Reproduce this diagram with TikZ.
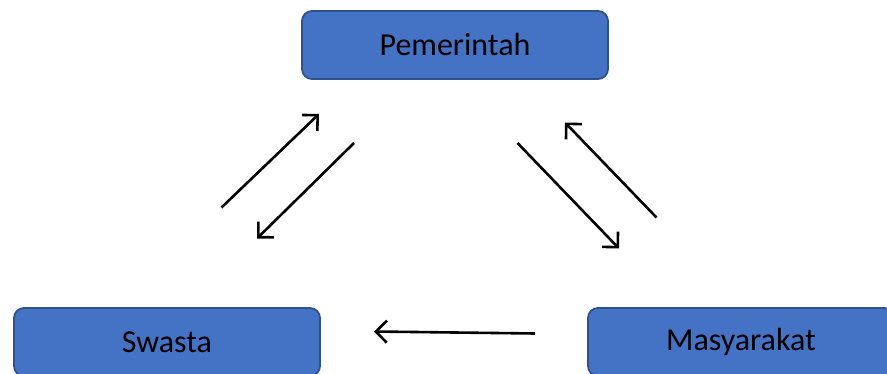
\documentclass[tikz,border=0pt]{standalone}
\usepackage{fontspec}
\setmainfont{Carlito}
\usetikzlibrary{arrows.meta}
\definecolor{boxfill}{HTML}{4472C4}
\definecolor{boxline}{HTML}{2F528F}
\begin{document}
\begin{tikzpicture}[x=1pt,y=-1pt,
  actor/.style={draw=boxline,fill=boxfill,line width=1.8pt,rounded corners=10pt,
    minimum width=306pt,minimum height=68pt,inner sep=0pt,
    font=\fontsize{32}{37}\selectfont,text=black},
  flow/.style={line width=2.6pt,-{Straight Barb[length=11pt,width=22pt,line width=2.6pt]}}]
\useasboundingbox (0,0) rectangle (887,374);
\node[actor] (pem) at (455,45) {Pemerintah};
\node[actor] (swa) at (167,342) {Swasta};
\node[actor] (mas) at (741,342) {Masyarakat};
\coordinate (a1s) at (221.5,207.5);
\coordinate (a1e) at (319,114);
\coordinate (a2s) at (354,143);
\coordinate (a2e) at (257,238.5);
\coordinate (a3s) at (517.5,143);
\coordinate (a3e) at (619,248.5);
\coordinate (a4s) at (656.5,217.5);
\coordinate (a4e) at (565,122.5);
\coordinate (a5s) at (535,333.5);
\coordinate (a5e) at (374,331.5);
\draw[flow] (a1s) -- (a1e);
\draw[flow] (a2s) -- (a2e);
\draw[flow] (a3s) -- (a3e);
\draw[flow] (a4s) -- (a4e);
\draw[flow] (a5s) -- (a5e);
\end{tikzpicture}
\end{document}
